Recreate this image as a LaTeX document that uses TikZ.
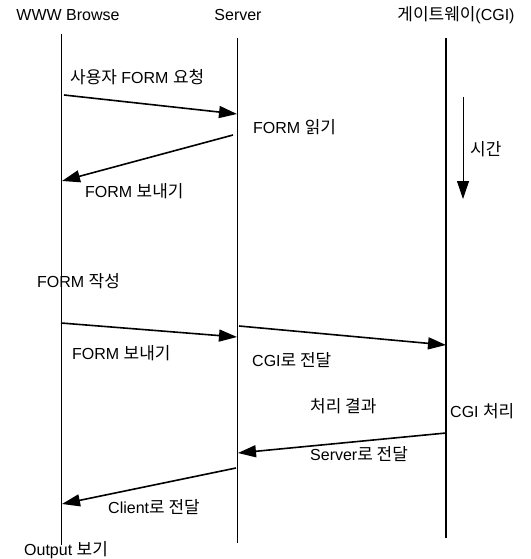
\documentclass[tikz,border=0pt]{standalone}
\usepackage{fontspec}
\setmainfont{Liberation Sans}
\newfontfamily\kr[Scale=1.06]{Noto Sans CJK KR}
\usetikzlibrary{arrows.meta, positioning, calc}

\begin{document}
\begin{tikzpicture}[
x=1pt, y=-1pt,
every node/.style={font=\fontsize{16}{18}\selectfont, inner sep=1pt},
lbl/.style={anchor=west},
life/.style={line width=0.9pt},
msg/.style={line width=1.6pt, -{Triangle[length=18pt,width=12pt]}}
]
\useasboundingbox (0,0) rectangle (530,559);

% column heads
\node (browser) at (68,15) {WWW Browse};
\node (server) at (238,15) {Server};
\node (cgi) at (456,15) {{\kr 게이트웨이}(CGI)};

% lifelines
\coordinate (b top) at (61,34);
\coordinate (b bot) at (61,545);
\coordinate (s top) at (237,38);
\coordinate (s bot) at (237,543);
\coordinate (c top) at (446,38);
\coordinate (c bot) at (446,538);
\draw[life] (b top) -- (b bot);
\draw[life, line width=1pt] (s top) -- (s bot);
\draw[life, line width=1.2pt] (c top) -- (c bot);

% message ends
\coordinate (b1) at (64,95);   \coordinate (s1) at (237,114);
\coordinate (s2) at (233,135); \coordinate (b2) at (62,181);
\coordinate (b3) at (61,323);  \coordinate (s3) at (237,337);
\coordinate (s4) at (239,326); \coordinate (c4) at (446,345);
\coordinate (c5) at (446,433); \coordinate (s5) at (238,453);
\coordinate (s6) at (236,468); \coordinate (b6) at (62,504);

\draw[msg] (b1) -- (s1);
\draw[msg] (s2) -- (b2);
\draw[msg] (b3) -- (s3);
\draw[msg] (s4) -- (c4);
\draw[msg] (c5) -- (s5);
\draw[msg] (s6) -- (b6);

% time
\coordinate (t top) at (463,97);
\coordinate (t bot) at (463,199);
\draw[line width=0.9pt, -{Triangle[length=18pt,width=12pt]}] (t top) -- (t bot);
\node[lbl] (time) at (469,149) {\kr 시간};

% labels
\node[lbl] (req) at (69,77) {{\kr 사용자} FORM {\kr 요청}};
\node[lbl] (read) at (252,127) {FORM {\kr 읽기}};
\node[lbl] (send1) at (84,191) {FORM {\kr 보내기}};
\node[lbl] (fill) at (36,281) {FORM {\kr 작성}};
\node[lbl] (send2) at (71,353) {FORM {\kr 보내기}};
\node[lbl] (tocgi) at (251,360) {CGI{\kr 로 전달}};
\node[lbl] (proc) at (449,411) {CGI {\kr 처리}};
\node[lbl] (result) at (309,406) {\kr 처리 결과};
\node[lbl] (toserver) at (309,454) {Server{\kr 로 전달}};
\node[lbl] (toclient) at (107,507) {Client{\kr 로 전달}};
\node[lbl] (output) at (23,550) {Output {\kr 보기}};

\end{tikzpicture}
\end{document}
